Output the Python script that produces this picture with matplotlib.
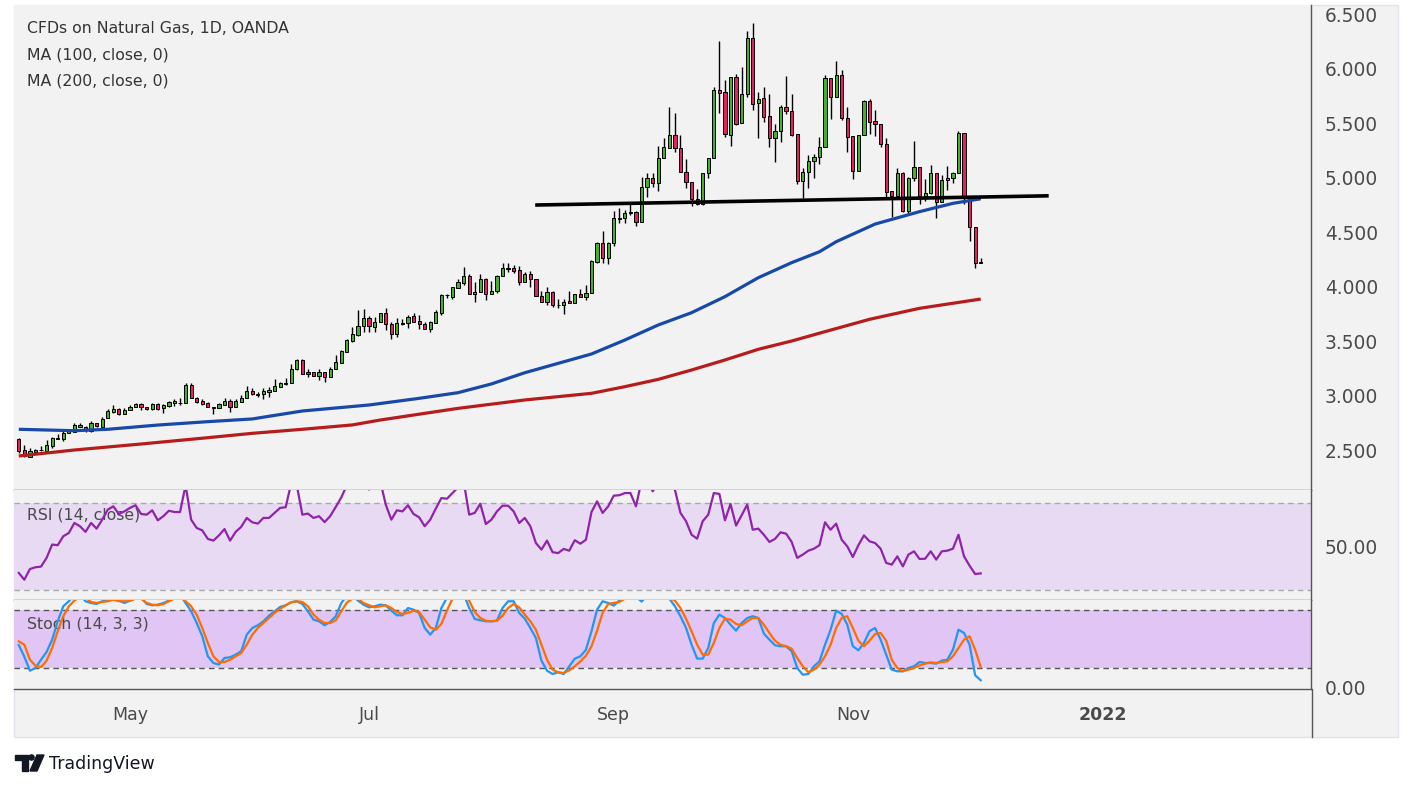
import numpy as np
import pandas as pd
import matplotlib
matplotlib.use("Agg")
import matplotlib.pyplot as plt
from matplotlib.patches import Rectangle, Polygon, Circle
from matplotlib.lines import Line2D

# Daily candles (Apr 5 2021 -> Dec 2 2021)
opens = [
    2.598, 2.497, 2.439, 2.482, 2.500, 2.494, 2.540, 2.603, 2.600, 2.653,
    2.668, 2.714, 2.714, 2.674, 2.745, 2.714, 2.790, 2.851, 2.873, 2.827,
    2.864, 2.891, 2.922, 2.894, 2.873, 2.922, 2.882, 2.907, 2.928, 2.932,
    2.934, 3.093, 2.977, 2.950, 2.931, 2.888, 2.882, 2.913, 2.950, 2.891,
    2.943, 2.974, 3.041, 3.011, 3.011, 3.035, 3.044, 3.081, 3.110, 3.112,
    3.240, 3.326, 3.218, 3.218, 3.182, 3.213, 3.173, 3.240, 3.301, 3.402,
    3.503, 3.555, 3.638, 3.714, 3.631, 3.671, 3.754, 3.653, 3.561, 3.660,
    3.662, 3.729, 3.683, 3.653, 3.607, 3.668, 3.754, 3.918, 3.907, 3.990,
    4.029, 4.096, 3.928, 3.946, 4.066, 3.928, 3.962, 4.093, 4.165, 4.167,
    4.151, 4.044, 4.115, 4.069, 3.916, 3.855, 3.946, 3.832, 3.830, 3.867,
    3.846, 3.928, 3.901, 3.937, 4.228, 4.402, 4.264, 4.396, 4.627, 4.625,
    4.678, 4.680, 4.589, 4.910, 4.993, 4.947, 5.176, 5.274, 5.390, 5.268,
    5.048, 4.956, 4.800, 4.754, 5.038, 5.176, 5.803, 5.782, 5.394, 5.919,
    5.497, 5.763, 6.277, 5.681, 5.727, 5.564, 5.360, 5.430, 5.644, 5.613,
    5.399, 4.971, 5.048, 5.151, 5.185, 5.277, 5.910, 5.736, 5.940, 5.543,
    5.380, 5.063, 5.390, 5.700, 5.518, 5.488, 5.304, 4.876, 4.830, 5.039,
    4.695, 4.993, 5.094, 4.833, 4.855, 5.039, 4.772, 4.977, 4.998, 5.039,
    5.411, 4.815, 4.543, 4.220,
]
highs = [
    2.607, 2.543, 2.521, 2.509, 2.537, 2.592, 2.622, 2.647, 2.677, 2.683,
    2.750, 2.745, 2.720, 2.769, 2.750, 2.800, 2.873, 2.916, 2.888, 2.882,
    2.910, 2.934, 2.928, 2.897, 2.928, 2.928, 2.925, 2.953, 2.968, 2.974,
    3.117, 3.112, 2.990, 2.965, 2.940, 2.890, 2.928, 2.974, 2.965, 2.965,
    3.002, 3.087, 3.066, 3.035, 3.066, 3.081, 3.151, 3.127, 3.158, 3.286,
    3.334, 3.334, 3.240, 3.218, 3.240, 3.220, 3.261, 3.372, 3.414, 3.515,
    3.628, 3.784, 3.794, 3.732, 3.723, 3.754, 3.806, 3.677, 3.708, 3.700,
    3.739, 3.754, 3.735, 3.670, 3.680, 3.784, 3.928, 3.935, 3.999, 4.069,
    4.176, 4.112, 4.038, 4.112, 4.081, 4.053, 4.105, 4.213, 4.213, 4.197,
    4.191, 4.130, 4.142, 4.072, 3.959, 3.998, 3.959, 3.882, 3.885, 3.959,
    3.930, 3.977, 4.014, 4.243, 4.411, 4.509, 4.411, 4.695, 4.717, 4.700,
    4.754, 4.690, 5.002, 5.039, 5.045, 5.289, 5.360, 5.644, 5.589, 5.390,
    5.167, 4.962, 4.895, 5.038, 5.176, 5.833, 6.252, 5.894, 5.919, 5.950,
    6.017, 6.347, 6.415, 5.782, 5.833, 5.766, 5.491, 5.665, 5.931, 5.766,
    5.399, 5.084, 5.206, 5.213, 5.374, 5.940, 5.915, 6.069, 5.986, 5.644,
    5.380, 5.390, 5.711, 5.717, 5.619, 5.490, 5.360, 4.876, 5.090, 5.048,
    5.007, 5.335, 5.100, 4.986, 5.115, 5.039, 5.023, 5.108, 5.053, 5.427,
    5.411, 4.830, 4.543, 4.259,
]
lows = [
    2.475, 2.439, 2.439, 2.470, 2.491, 2.494, 2.520, 2.600, 2.580, 2.653,
    2.665, 2.714, 2.665, 2.665, 2.714, 2.708, 2.790, 2.842, 2.818, 2.827,
    2.864, 2.891, 2.867, 2.867, 2.867, 2.867, 2.842, 2.897, 2.907, 2.917,
    2.934, 2.980, 2.928, 2.916, 2.891, 2.833, 2.882, 2.913, 2.851, 2.891,
    2.943, 2.974, 3.005, 2.983, 2.965, 2.990, 3.044, 3.075, 3.100, 3.112,
    3.236, 3.197, 3.167, 3.175, 3.142, 3.127, 3.173, 3.240, 3.295, 3.402,
    3.488, 3.550, 3.586, 3.580, 3.580, 3.671, 3.601, 3.515, 3.534, 3.645,
    3.616, 3.670, 3.610, 3.607, 3.580, 3.668, 3.739, 3.895, 3.885, 3.984,
    4.014, 3.928, 3.855, 3.946, 3.876, 3.928, 3.937, 4.093, 4.136, 4.121,
    4.014, 4.044, 3.998, 3.916, 3.855, 3.830, 3.815, 3.806, 3.745, 3.846,
    3.846, 3.901, 3.876, 3.937, 4.220, 4.220, 4.206, 4.374, 4.580, 4.580,
    4.660, 4.558, 4.589, 4.818, 4.910, 4.879, 5.176, 5.270, 5.231, 5.048,
    4.906, 4.741, 4.750, 4.745, 4.993, 5.176, 5.595, 5.369, 5.292, 5.485,
    5.497, 5.741, 5.619, 5.360, 5.512, 5.283, 5.145, 5.329, 5.583, 5.385,
    4.940, 4.815, 4.906, 4.998, 5.121, 5.277, 5.534, 5.736, 5.530, 5.237,
    4.983, 5.063, 5.390, 5.399, 5.381, 5.277, 4.824, 4.640, 4.809, 4.686,
    4.656, 4.971, 4.757, 4.784, 4.846, 4.631, 4.772, 4.885, 4.947, 5.039,
    4.757, 4.420, 4.167, 4.213,
]
closes = [
    2.491, 2.445, 2.491, 2.500, 2.502, 2.546, 2.610, 2.607, 2.659, 2.677,
    2.729, 2.726, 2.683, 2.745, 2.717, 2.787, 2.858, 2.873, 2.827, 2.864,
    2.891, 2.922, 2.891, 2.873, 2.922, 2.879, 2.913, 2.943, 2.950, 2.930,
    3.093, 2.980, 2.943, 2.922, 2.891, 2.886, 2.922, 2.950, 2.891, 2.950,
    2.977, 3.041, 3.011, 3.008, 3.041, 3.050, 3.087, 3.117, 3.112, 3.246,
    3.326, 3.197, 3.194, 3.182, 3.218, 3.173, 3.240, 3.304, 3.408, 3.509,
    3.564, 3.638, 3.714, 3.638, 3.671, 3.754, 3.653, 3.561, 3.662, 3.662,
    3.723, 3.677, 3.653, 3.607, 3.671, 3.763, 3.922, 3.922, 3.993, 4.038,
    4.096, 3.928, 3.946, 4.066, 3.928, 3.962, 4.093, 4.167, 4.167, 4.145,
    4.044, 4.115, 4.066, 3.916, 3.855, 3.946, 3.830, 3.830, 3.861, 3.846,
    3.928, 3.901, 3.937, 4.237, 4.402, 4.264, 4.402, 4.625, 4.623, 4.677,
    4.682, 4.589, 4.910, 4.993, 4.947, 5.176, 5.277, 5.390, 5.268, 5.048,
    4.956, 4.800, 4.754, 5.038, 5.176, 5.803, 5.779, 5.396, 5.919, 5.491,
    5.763, 6.277, 5.672, 5.717, 5.558, 5.360, 5.430, 5.644, 5.613, 5.390,
    4.971, 5.048, 5.151, 5.185, 5.277, 5.910, 5.736, 5.940, 5.543, 5.374,
    5.063, 5.390, 5.702, 5.512, 5.488, 5.304, 4.870, 4.830, 5.039, 4.695,
    4.993, 5.094, 4.833, 4.855, 5.039, 4.772, 4.977, 4.998, 5.044, 5.411,
    4.815, 4.543, 4.213, 4.222,
]

# Moving averages, sampled every few bars (bar number, price)
ma100_bar = [0, 10, 16, 25, 34, 42, 51, 63, 72, 79, 85, 91, 97, 103, 109,
             115, 121, 127, 133, 139, 144, 147, 154, 162, 168, 173]
ma100_val = [2.690, 2.677, 2.690, 2.729, 2.760, 2.785, 2.858, 2.913, 2.974,
             3.026, 3.106, 3.209, 3.295, 3.381, 3.509, 3.647, 3.760, 3.907,
             4.081, 4.219, 4.319, 4.411, 4.573, 4.687, 4.763, 4.805]
ma200_bar = [0, 10, 22, 34, 42, 51, 60, 65, 79, 91, 103, 109, 115, 121, 127,
             133, 139, 145, 153, 162, 173]
ma200_val = [2.445, 2.500, 2.555, 2.613, 2.653, 2.690, 2.730, 2.775, 2.882,
             2.959, 3.020, 3.081, 3.148, 3.234, 3.326, 3.424, 3.500, 3.586,
             3.699, 3.800, 3.885]

# hand-drawn neckline
neck_bar = [93.2, 184.9]
neck_val = [4.748, 4.832]

rsi = [
    37.8, 34.7, 39.6, 40.4, 40.7, 44.7, 50.8, 50.5, 54.6, 56.1,
    60.7, 59.2, 56.6, 60.7, 58.1, 62.2, 66.8, 68.3, 64.8, 66.0,
    67.6, 68.8, 64.8, 64.5, 66.5, 61.9, 63.8, 66.3, 65.7, 65.7,
    78.0, 62.2, 58.4, 57.3, 53.4, 52.6, 55.0, 57.9, 52.6, 56.6,
    58.9, 63.0, 61.0, 60.4, 63.0, 63.0, 65.3, 67.6, 67.9, 79.0,
    78.0, 64.5, 65.0, 63.0, 63.8, 61.1, 63.8, 68.0, 72.4, 78.0,
    82.0, 85.0, 82.0, 76.0, 78.0, 80.0, 69.1, 62.2, 66.5, 66.0,
    68.8, 64.8, 63.3, 59.2, 62.2, 67.3, 72.1, 71.8, 74.4, 77.0,
    80.0, 64.5, 65.3, 69.5, 60.2, 62.2, 66.0, 68.6, 68.6, 66.0,
    60.7, 63.0, 59.2, 51.5, 48.5, 52.6, 47.3, 46.9, 48.8, 48.0,
    52.8, 51.2, 53.0, 65.7, 70.6, 65.3, 68.3, 73.2, 73.4, 74.4,
    74.4, 68.3, 80.0, 81.0, 75.2, 79.0, 82.0, 84.0, 76.0, 65.3,
    61.5, 55.3, 53.5, 61.5, 64.5, 74.4, 74.0, 61.9, 69.4, 59.5,
    64.2, 69.1, 57.6, 58.1, 55.3, 52.0, 53.4, 56.4, 55.8, 52.0,
    44.7, 46.2, 48.0, 48.9, 50.5, 61.0, 57.6, 60.4, 53.0, 50.0,
    45.1, 50.5, 55.0, 52.3, 51.5, 48.9, 42.4, 41.6, 45.4, 40.8,
    46.2, 47.7, 44.2, 44.3, 47.7, 43.9, 47.7, 48.0, 48.9, 55.3,
    45.4, 41.1, 37.3, 37.6,
]
stoch_k = [
    44.0, 32.0, 17.5, 20.3, 28.9, 36.9, 49.6, 68.6, 84.1, 89.3,
    97.0, 96.0, 89.3, 87.5, 86.5, 89.3, 90.0, 95.0, 90.0, 87.5,
    90.0, 95.0, 93.0, 86.5, 85.1, 85.8, 87.5, 90.0, 96.0, 96.0,
    87.5, 78.9, 66.8, 53.1, 32.4, 25.5, 23.8, 30.7, 31.4, 34.1,
    37.6, 54.8, 61.7, 64.5, 68.6, 74.4, 78.9, 83.4, 85.1, 88.3,
    89.3, 86.5, 78.9, 70.3, 68.6, 64.5, 67.9, 73.8, 87.5, 95.0,
    96.0, 90.0, 85.8, 83.0, 84.1, 85.8, 85.1, 79.6, 74.8, 74.8,
    82.3, 80.6, 77.2, 61.7, 54.8, 61.7, 82.3, 93.0, 97.0, 98.0,
    97.0, 82.3, 71.0, 69.6, 68.6, 68.6, 69.2, 82.3, 89.3, 89.3,
    77.2, 71.3, 61.7, 51.3, 27.9, 17.5, 14.1, 15.9, 14.1, 22.1,
    30.0, 32.4, 39.2, 58.3, 80.6, 89.3, 87.5, 84.8, 90.0, 95.0,
    97.0, 94.0, 89.0, 95.0, 97.0, 97.0, 98.0, 92.0, 84.1, 73.8,
    61.7, 44.4, 30.0, 30.0, 41.0, 66.8, 75.5, 72.0, 65.1, 58.9,
    66.8, 72.0, 73.8, 72.0, 55.8, 49.6, 43.8, 42.8, 42.8, 37.6,
    20.3, 13.4, 14.1, 22.1, 27.2, 44.4, 59.9, 79.6, 76.2, 65.1,
    42.8, 38.6, 46.2, 58.3, 61.7, 49.6, 34.1, 18.6, 16.9, 16.9,
    20.3, 22.1, 26.5, 25.5, 25.5, 24.8, 27.9, 28.9, 39.2, 59.9,
    56.5, 44.4, 12.8, 7.6,
]
stoch_d = [
    47.9, 44.4, 28.9, 22.7, 21.3, 27.9, 41.0, 58.3, 73.8, 84.1,
    90.0, 94.0, 93.0, 88.6, 87.5, 88.6, 89.3, 91.0, 89.3, 89.3,
    89.6, 92.0, 92.0, 87.5, 85.8, 85.1, 86.5, 89.3, 92.0, 94.0,
    89.3, 84.1, 75.5, 61.7, 46.2, 32.4, 26.5, 26.5, 28.9, 32.4,
    35.8, 44.4, 54.8, 61.7, 66.8, 72.0, 77.2, 81.6, 85.1, 88.3,
    89.3, 88.6, 84.1, 75.5, 70.3, 66.8, 66.8, 69.5, 78.9, 88.0,
    92.0, 92.0, 87.5, 85.1, 83.0, 84.1, 85.1, 82.3, 78.2, 76.2,
    77.2, 79.6, 78.2, 70.3, 62.3, 59.9, 65.8, 79.6, 92.0, 96.0,
    97.0, 90.0, 78.2, 72.0, 69.2, 68.6, 69.2, 74.4, 82.3, 86.5,
    83.0, 75.5, 68.6, 59.9, 44.4, 28.9, 18.6, 15.9, 15.2, 17.9,
    22.1, 27.2, 33.0, 42.8, 58.9, 77.2, 86.5, 87.5, 88.6, 92.0,
    95.0, 95.0, 93.0, 93.0, 95.0, 96.0, 97.0, 93.0, 90.0, 82.3,
    71.3, 58.3, 44.4, 34.1, 34.1, 46.2, 61.7, 71.3, 70.3, 65.8,
    64.5, 68.6, 72.0, 72.0, 65.1, 56.5, 48.5, 44.4, 42.8, 40.3,
    30.7, 22.1, 15.9, 18.6, 23.8, 32.4, 44.4, 61.7, 72.0, 73.8,
    61.7, 48.5, 42.8, 48.5, 55.5, 56.5, 48.5, 28.9, 20.3, 16.9,
    18.6, 20.3, 23.1, 24.8, 26.2, 25.5, 26.5, 27.2, 32.4, 41.0,
    49.6, 53.1, 39.2, 21.3,
]

price_ticks = [2.5, 3.0, 3.5, 4.0, 4.5, 5.0, 5.5, 6.0, 6.5]
month_labels = [("May", 2021, 5), ("Jul", 2021, 7), ("Sep", 2021, 9),
                ("Nov", 2021, 11), ("2022", 2022, 1)]

# ---- layout (pixels of a 1413x790 canvas) ----
W, H = 1413, 790
BG = "#f2f2f2"
SEP = "#555555"
TXT = "#4a4a4a"
GREEN = "#45b02c"
RED = "#e91e63"


def rect(x0, y0, x1, y1):
    return [x0 / W, 1 - y1 / H, (x1 - x0) / W, (y1 - y0) / H]


days = pd.bdate_range("2021-04-05", periods=240)
n = len(closes)
bars = np.arange(n)
o = np.array(opens)
c = np.array(closes)

fig = plt.figure(figsize=(W / 100, H / 100), dpi=100)
fig.patch.set_facecolor("white")
frame = Rectangle((14 / W, 1 - 737 / H), 1384 / W, 732 / H,
                  transform=fig.transFigure, facecolor=BG,
                  edgecolor="#e0e3eb", lw=1, zorder=-10)
fig.add_artist(frame)

xmin, xmax = -0.86, 232.4
ax = fig.add_axes(rect(14, 5, 1311, 490))
ax_rsi = fig.add_axes(rect(14, 490, 1311, 600), sharex=ax)
ax_st = fig.add_axes(rect(14, 600, 1311, 689), sharex=ax)

for a in (ax, ax_rsi, ax_st):
    a.set_facecolor(BG)
    for s in ("left", "top"):
        a.spines[s].set_visible(False)
    for s in ("right", "bottom"):
        a.spines[s].set_color(SEP)
        a.spines[s].set_linewidth(1)
    a.yaxis.tick_right()
    a.tick_params(axis="y", length=0, pad=10, labelsize=13.4, labelcolor=TXT)
    a.tick_params(axis="x", length=0)
ax.set_xlim(xmin, xmax)

# candles
colors = np.where(c >= o, GREEN, RED)
ax.vlines(bars, lows, highs, color="black", lw=1, zorder=3)
ax.bar(bars, np.maximum(np.abs(c - o), 0.004), bottom=np.minimum(o, c),
       width=0.58, color=colors, edgecolor="black", lw=0.7, zorder=4)
ax.plot(ma100_bar, ma100_val, color="#1848a8", lw=2.3, zorder=5,
        solid_capstyle="butt", solid_joinstyle="round")
ax.plot(ma200_bar, ma200_val, color="#b71c1c", lw=2.3, zorder=5,
        solid_capstyle="butt", solid_joinstyle="round")
ax.plot(neck_bar, neck_val, color="black", lw=2.6, zorder=6)
ax.set_ylim(2.133, 6.583)
ax.set_yticks(price_ticks)
ax.set_yticklabels([f"{v:.3f}" for v in price_ticks])
plt.setp(ax.get_xticklabels(), visible=False)

ax.text(13 / 1297, 1 - 24 / 485, "CFDs on Natural Gas, 1D, OANDA",
        transform=ax.transAxes, fontsize=11.3, color="#333333", va="center")
ax.text(13 / 1297, 1 - 50 / 485, "MA (100, close, 0)",
        transform=ax.transAxes, fontsize=11.3, color="#333333", va="center")
ax.text(13 / 1297, 1 - 76 / 485, "MA (200, close, 0)",
        transform=ax.transAxes, fontsize=11.3, color="#333333", va="center")

# RSI
ax_rsi.axhspan(30, 70, color="#e9daf3", lw=0, zorder=0)
for lvl in (30, 70):
    ax_rsi.axhline(lvl, color="#a8a8a8", lw=1, ls=(0, (4, 3)), zorder=1)
ax_rsi.plot(bars, rsi, color="#8e24aa", lw=1.6, zorder=3)
ax_rsi.set_ylim(25.4, 75.8)
ax_rsi.set_yticks([50])
ax_rsi.set_yticklabels(["50.00"])
plt.setp(ax_rsi.get_xticklabels(), visible=False)
ax_rsi.text(13 / 1297, 1 - 25 / 110, "RSI (14, close)",
            transform=ax_rsi.transAxes, fontsize=11.3, color=TXT,
            va="center", zorder=2)

# Stochastic
ax_st.axhspan(20, 80, color="#e1c5f4", lw=0, zorder=0)
for lvl in (20, 80):
    ax_st.axhline(lvl, color="#555555", lw=1, ls=(0, (4, 3)), zorder=1)
ax_st.plot(bars, stoch_k, color="#2196f3", lw=1.6, zorder=3)
ax_st.plot(bars, stoch_d, color="#ff6d00", lw=1.6, zorder=4)
ax_st.set_ylim(-1.4, 90.6)
ax_st.set_yticks([0])
ax_st.set_yticklabels(["0.00"])
ax_st.text(13 / 1297, 1 - 24 / 89, "Stoch (14, 3, 3)",
           transform=ax_st.transAxes, fontsize=11.3, color=TXT,
           va="center", zorder=2)

tick_pos = []
for _, yy, mm in month_labels:
    tick_pos.append(int(np.argmax((days.year == yy) & (days.month == mm))))
ax_st.set_xticks(tick_pos)
ax_st.set_xticklabels([m[0] for m in month_labels])
ax_st.tick_params(axis="x", pad=12, labelsize=12.5, labelcolor=TXT)
ax_st.get_xticklabels()[-1].set_fontweight("bold")

# right axis line running down through the date strip
fig.add_artist(Line2D([1311.5 / W, 1311.5 / W], [1 - 689 / H, 1 - 737 / H],
                      transform=fig.transFigure, color=SEP, lw=1))

# TradingView mark
logo = fig.add_axes(rect(14, 752, 46, 774))
logo.set_xlim(14, 46)
logo.set_ylim(774, 752)
logo.axis("off")
logo.add_patch(Polygon([(15, 755), (28, 755), (28, 771), (22, 771),
                        (22, 760), (15, 760)], closed=True, color="#131722"))
logo.add_patch(Circle((31.5, 757.5), 2.6, color="#131722"))
logo.add_patch(Polygon([(30, 771), (37, 755), (44, 755), (37, 771)],
                       closed=True, color="#131722"))
fig.text(49 / W, 1 - 764 / H, "TradingView", fontsize=12.5,
         color="#131722", va="center", ha="left")

fig.savefig("out.png", dpi=100, facecolor="white")
